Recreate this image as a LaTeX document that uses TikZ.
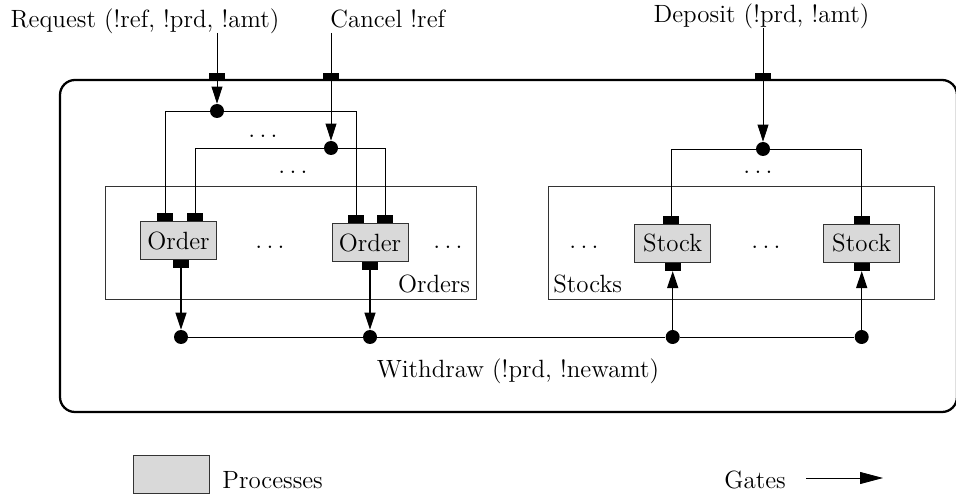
\documentclass[tikz,border=0pt]{standalone}
\usepackage{fontspec}
\usetikzlibrary{arrows.meta}
\begin{document}
\begin{tikzpicture}[x=0.02cm, y=-0.02cm, line width=0.45pt,
  font=\fontsize{14.2}{17}\selectfont,
  proc/.style={draw=black!80, fill=gray!30, minimum width=1.52cm, minimum height=0.76cm, inner sep=0pt},
  gate/.style={rectangle, fill, minimum width=0.32cm, minimum height=0.16cm, inner sep=0pt},
  dot/.style={circle, fill, minimum size=0.28cm, inner sep=0pt},
  group/.style={draw=black!80, minimum height=2.25cm, inner sep=0pt},
  lbl/.style={inner sep=0pt, text depth=0.25em},
  gt/.style={-{Triangle[length=0.34cm, width=0.22cm]}}]
\useasboundingbox (0,0) rectangle (956,496);
\draw[line width=1.3pt, rounded corners=0.3cm] (60,80) rectangle (957,412);
\node[group, minimum width=7.42cm] (orders) at (290.5,243) {};
\node[group, minimum width=7.72cm] (stocks) at (741,243) {};
\node[anchor=base east] (ordlbl) at (orders.south east |- 0,293) {Orders};
\node[anchor=base west, inner sep=0pt] (stklbl) at (553,293) {Stocks};
\node[lbl, anchor=base] (reqtxt) at (145,28) {Request (!ref, !prd, !amt)};
\node[lbl, anchor=base west] (cantxt) at (330,28) {Cancel !ref};
\node[lbl, anchor=base] (deptxt) at (761.5,23) {Deposit (!prd, !amt)};
\node[gate] (reqg) at (217,77) {};
\node[gate] (cang) at (331,77) {};
\node[gate] (depg) at (763,77) {};
\node[dot] (reqdot) at (217,111) {};
\node[dot] (candot) at (331,148) {};
\node[dot] (depdot) at (763,149) {};
\node[proc] (ord1) at (178.5,240.5) {Order};
\node[proc] (ord2) at (370,242.5) {Order};
\node[proc] (stk1) at (672.7,243.3) {Stock};
\node[proc] (stk2) at (861.7,243.3) {Stock};
\node[gate, anchor=south] (o1r) at (165,221.7) {};
\node[gate, anchor=south] (o1c) at (195,221.7) {};
\node[gate, anchor=north] (o1w) at (181,259.3) {};
\node[gate, anchor=south] (o2r) at (356,223.5) {};
\node[gate, anchor=south] (o2c) at (385,223.5) {};
\node[gate, anchor=north] (o2w) at (370,261.5) {};
\node[gate, anchor=south] (s1d) at (671,224.3) {};
\node[gate, anchor=north] (s1w) at (672.7,262.3) {};
\node[gate, anchor=south] (s2d) at (861.7,224.3) {};
\node[gate, anchor=north] (s2w) at (861.7,262.3) {};
\node[dot] (wd1) at (181,337) {};
\node[dot] (wd2) at (370,337) {};
\node[dot] (wd3) at (672.7,337) {};
\node[dot] (wd4) at (861.7,337) {};
\node[lbl, anchor=base] (wdtxt) at (518,377) {Withdraw (!prd, !newamt)};
\node[inner sep=0pt, anchor=base] (dd1) at (263,138) {$\ldots$};
\node[inner sep=0pt, anchor=base] (dd2) at (293,174) {$\ldots$};
\node[inner sep=0pt, anchor=base] (dd3) at (270,249) {$\ldots$};
\node[inner sep=0pt, anchor=base] (dd4) at (448,249) {$\ldots$};
\node[inner sep=0pt, anchor=base] (dd5) at (584,249) {$\ldots$};
\node[inner sep=0pt, anchor=base] (dd6) at (766,249) {$\ldots$};
\node[inner sep=0pt, anchor=base] (dd7) at (758,174) {$\ldots$};
\draw[](reqg |- reqtxt.south) -- (reqg);
\draw[gt](reqg) -- (reqdot);
\draw[](o1r) |- (reqdot) -| (o2r);
\draw[](cang |- cantxt.south) -- (cang);
\draw[gt](cang) -- (candot);
\draw[](o1c) |- (candot) -| (o2c);
\draw[](depg |- deptxt.south) -- (depg);
\draw[gt](depg) -- (depdot);
\draw[](s1d) |- (depdot) -| (s2d);
\draw[gt, line width=0.7pt](o1w) -- (wd1);
\draw[gt, line width=0.7pt](o2w) -- (wd2);
\draw[gt, line width=0.7pt](wd3) -- (s1w);
\draw[gt, line width=0.7pt](wd4) -- (s2w);
\draw[](wd1) -- (wd2) -- (wd3) -- (wd4);
% legend
\node[proc] (legproc) at (171,474) {};
\node[anchor=base west, inner sep=0pt] (legtxt) at (222,488) {Processes};
\node[anchor=base west, inner sep=0pt] (gatetxt) at (724,488) {Gates};
\coordinate (gbeg) at (806,478);
\coordinate (gend) at (883,478);
\draw[-{Triangle[length=0.46cm, width=0.24cm]}](gbeg) -- (gend);
\end{tikzpicture}
\end{document}
